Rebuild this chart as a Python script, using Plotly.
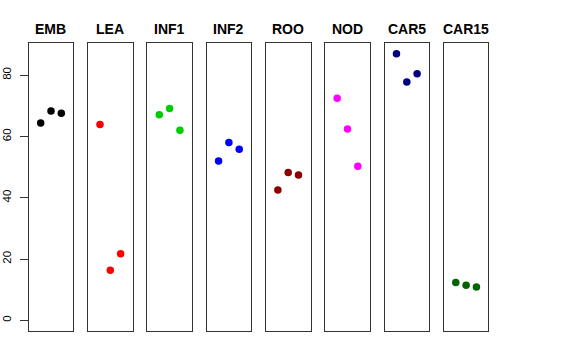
import plotly.graph_objects as go

groups = ["EMB", "LEA", "INF1", "INF2", "ROO", "NOD", "CAR5", "CAR15"]
colors = ["#000000", "#FF0000", "#00CD00", "#0000FF", "#8B0000", "#FF00FF", "#000080", "#006400"]
xpos = [1, 2, 3]
values = {
    "EMB": [64.4, 68.3, 67.6],
    "LEA": [63.9, 16.3, 21.7],
    "INF1": [67.1, 69.1, 62.0],
    "INF2": [52.0, 58.0, 55.8],
    "ROO": [42.5, 48.2, 47.4],
    "NOD": [72.5, 62.4, 50.3],
    "CAR5": [87.0, 77.8, 80.5],
    "CAR15": [12.3, 11.4, 10.9],
}
yticks = [0, 20, 40, 60, 80]

W, H = 576, 360
left0, pw, step = 28.7, 44.6, 59.3
ytop, ybot = 43, 331

fig = go.Figure()
layout = dict(
    width=W, height=H, margin=dict(l=0, r=0, t=0, b=0, autoexpand=False),
    plot_bgcolor="white", paper_bgcolor="white", showlegend=False,
    font=dict(family="Liberation Sans, Arial, sans-serif", color="black"),
)
annotations = []
for i, g in enumerate(groups):
    n = "" if i == 0 else str(i + 1)
    x0 = (left0 + i * step) / W
    x1 = (left0 + i * step + pw) / W
    fig.add_trace(go.Scatter(
        x=xpos, y=values[g], mode="markers",
        marker=dict(color=colors[i], size=7.5),
        xaxis="x" + n, yaxis="y" + n, hoverinfo="skip",
    ))
    layout["xaxis" + n] = dict(
        domain=[x0, x1], anchor="y" + n, range=[-0.16, 4.16], automargin=False,
        showticklabels=False, ticks="", showgrid=False, zeroline=False,
        showline=True, mirror=True, linecolor="#333333", linewidth=1,
    )
    ya = dict(
        domain=[1 - ybot / H, 1 - ytop / H], anchor="x" + n, range=[-3.5, 90.5],
        showgrid=False, zeroline=False, automargin=False,
        showline=True, mirror=True, linecolor="#333333", linewidth=1,
    )
    if i == 0:
        ya.update(tickmode="array", tickvals=yticks, ticktext=[str(t) for t in yticks],
                  ticks="outside", ticklen=8, tickcolor="#333333", tickangle=-90,
                  tickfont=dict(size=11.5), ticklabelstandoff=4)
    else:
        ya.update(showticklabels=False, ticks="")
    layout["yaxis" + n] = ya
    annotations.append(dict(
        text="<b>" + g + "</b>", x=(x0 + x1) / 2, y=1 - 29 / H,
        xref="paper", yref="paper", showarrow=False,
        xanchor="center", yanchor="middle", font=dict(size=14),
    ))
layout["annotations"] = annotations
fig.update_layout(**layout)
fig.write_html("out.html", config={"displayModeBar": False},
               post_script="document.body.style.margin='0';document.body.style.padding='0';")
